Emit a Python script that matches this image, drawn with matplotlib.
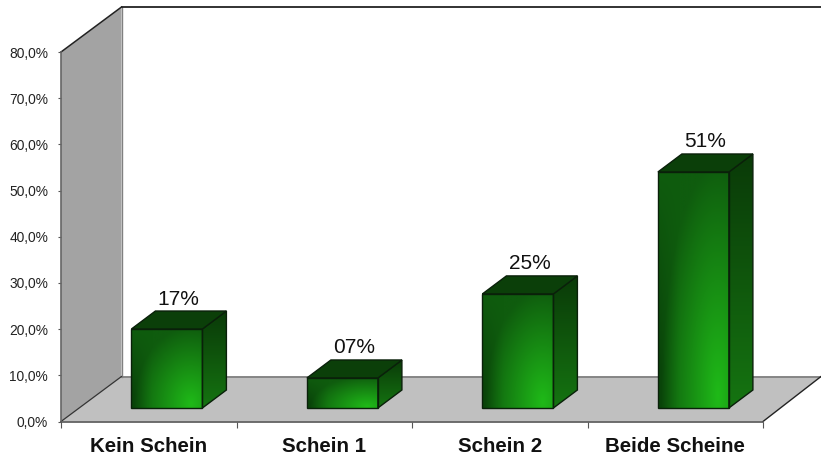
import numpy as np
import matplotlib
matplotlib.use("Agg")
import matplotlib.pyplot as plt
from matplotlib.patches import Polygon

categories = ["Kein Schein", "Schein 1", "Schein 2", "Beide Scheine"]
values = [17.1, 6.5, 24.7, 51.1]
labels = ["17%", "07%", "25%", "51%"]
y_ticks = [0, 10, 20, 30, 40, 50, 60, 70, 80]

W, H = 821, 455
plt.rcParams["font.family"] = ["Liberation Sans", "DejaVu Sans"]
fig = plt.figure(figsize=(W / 100, H / 100), dpi=100, facecolor="white")
L, R, T, B = 61, 763, 52, 421.5
ax = fig.add_axes([L / W, 1 - B / H, (R - L) / W, (B - T) / H])
ax.set_xlim(0, len(categories))
ax.set_ylim(0, 80)
ax.set_facecolor("none")

ux = (R - L) / len(categories)     # px per category
uy = (B - T) / 80                  # px per percent
DX, DY = 60.5 / ux, 45 / uy        # wall depth, data units
BW = 71 / ux                       # bar width
BDX, BDY = 24 / ux, 18 / uy        # bar depth
OFFX, OFFY = 70.4 / ux, 13.5 / uy  # bar offset from front edge
FX = 58 / ux

# walls and floor
ax.add_patch(Polygon([(0, 0), (DX, DY), (DX, 80 + DY), (0, 80)], fc="#a3a3a3", ec="none", clip_on=False, zorder=1))
ax.add_patch(Polygon([(0, 0), (DX, DY), (4 + FX, DY), (4, 0)], fc="#c0c0c0", ec="none", clip_on=False, zorder=1))
ax.plot([DX, DX], [DY, 80 + DY], color="#808080", lw=1, clip_on=False, zorder=2)
ax.plot([DX, 4 + FX], [DY, DY], color="#808080", lw=1.3, clip_on=False, zorder=2)
ax.plot([0, DX], [0, DY], color="#333333", lw=0.9, clip_on=False, zorder=2)
ax.plot([0, DX], [80, 80 + DY], color="#222222", lw=1.1, clip_on=False, zorder=2)
ax.plot([DX, 4 + FX], [80 + DY, 80 + DY], color="#222222", lw=1.3, clip_on=False, zorder=2)
ax.plot([4, 4 + FX], [0, DY], color="#222222", lw=1, clip_on=False, zorder=2)


def front_gradient():
    u, v = np.meshgrid(np.linspace(0, 1, 80), np.linspace(0, 1, 120))
    d = np.sqrt(((u - 0.85) / 0.8) ** 2 + ((v - 0.95) / 0.98) ** 2)
    t = np.clip(1 - d, 0, 1) ** 1.0
    base_c = np.array([15, 92, 14]) / 255
    edge_c = np.array([9, 66, 9]) / 255
    light = np.array([31, 186, 24]) / 255
    e = np.clip(1 - u / 0.3, 0, 1) * np.clip(v * 1.2, 0, 1)
    base = base_c + (edge_c - base_c) * e[..., None]
    return base + (light - base) * t[..., None]


def side_gradient():
    v = np.linspace(0, 1, 120)[:, None]
    top = np.array([10, 58, 8]) / 255
    bot = np.array([21, 116, 17]) / 255
    return top + (bot - top) * v[..., None]


for i, (val, lab) in enumerate(zip(values, labels)):
    x0 = i + OFFX
    y0 = OFFY
    y1 = OFFY + val
    x1 = x0 + BW
    # side
    side = Polygon([(x1, y0), (x1 + BDX, y0 + BDY), (x1 + BDX, y1 + BDY), (x1, y1)],
                   fc="none", ec="#0a200a", lw=1, zorder=4, clip_on=False)
    ax.add_patch(side)
    im = ax.imshow(side_gradient(), extent=(x1, x1 + BDX, y0, y1 + BDY), aspect="auto", zorder=3)
    im.set_clip_path(Polygon(side.get_xy(), transform=ax.transData))
    # top
    ax.add_patch(Polygon([(x0, y1), (x0 + BDX, y1 + BDY), (x1 + BDX, y1 + BDY), (x1, y1)],
                         fc="#0b3f09", ec="#0a200a", lw=1, zorder=4, clip_on=False))
    # front
    ax.imshow(front_gradient(), extent=(x0, x1, y0, y1), aspect="auto", zorder=3, clip_on=False)
    ax.add_patch(Polygon([(x0, y0), (x0, y1), (x1, y1), (x1, y0)], fc="none", ec="#0a200a", lw=1, zorder=4, clip_on=False))
    ax.text(x0 + BW / 2 + 11.5 / ux, y1 + BDY + 2.5 / uy, lab, ha="center", va="bottom", fontsize=15, color="#111111", zorder=5)

ax.set_xlim(0, len(categories))
ax.set_ylim(0, 80)

for s in ("top", "right"):
    ax.spines[s].set_visible(False)
ax.spines["left"].set_color("#666666")
ax.spines["left"].set_linewidth(1.2)
ax.spines["bottom"].set_color("#555555")
ax.spines["bottom"].set_linewidth(1.2)
ax.spines["left"].set_zorder(6)
ax.spines["bottom"].set_zorder(6)

ax.set_yticks(y_ticks)
ax.set_yticklabels([f"{v:.1f}%".replace(".", ",") for v in y_ticks], fontsize=9.9, color="#222222")
ax.tick_params(axis="y", length=2.2, width=0.8, color="#555555", pad=7)
ax.set_xticks(np.arange(len(categories) + 1))
ax.set_xticklabels([])
ax.tick_params(axis="x", which="major", length=4, width=0.8, color="#555555")
ax.set_xticks(np.arange(len(categories)) + 0.5, minor=True)
ax.set_xticklabels(categories, minor=True, fontsize=14.8, fontweight="bold", color="#111111")
ax.tick_params(axis="x", which="minor", length=0, pad=11.5)

fig.savefig("out.png", dpi=100)
